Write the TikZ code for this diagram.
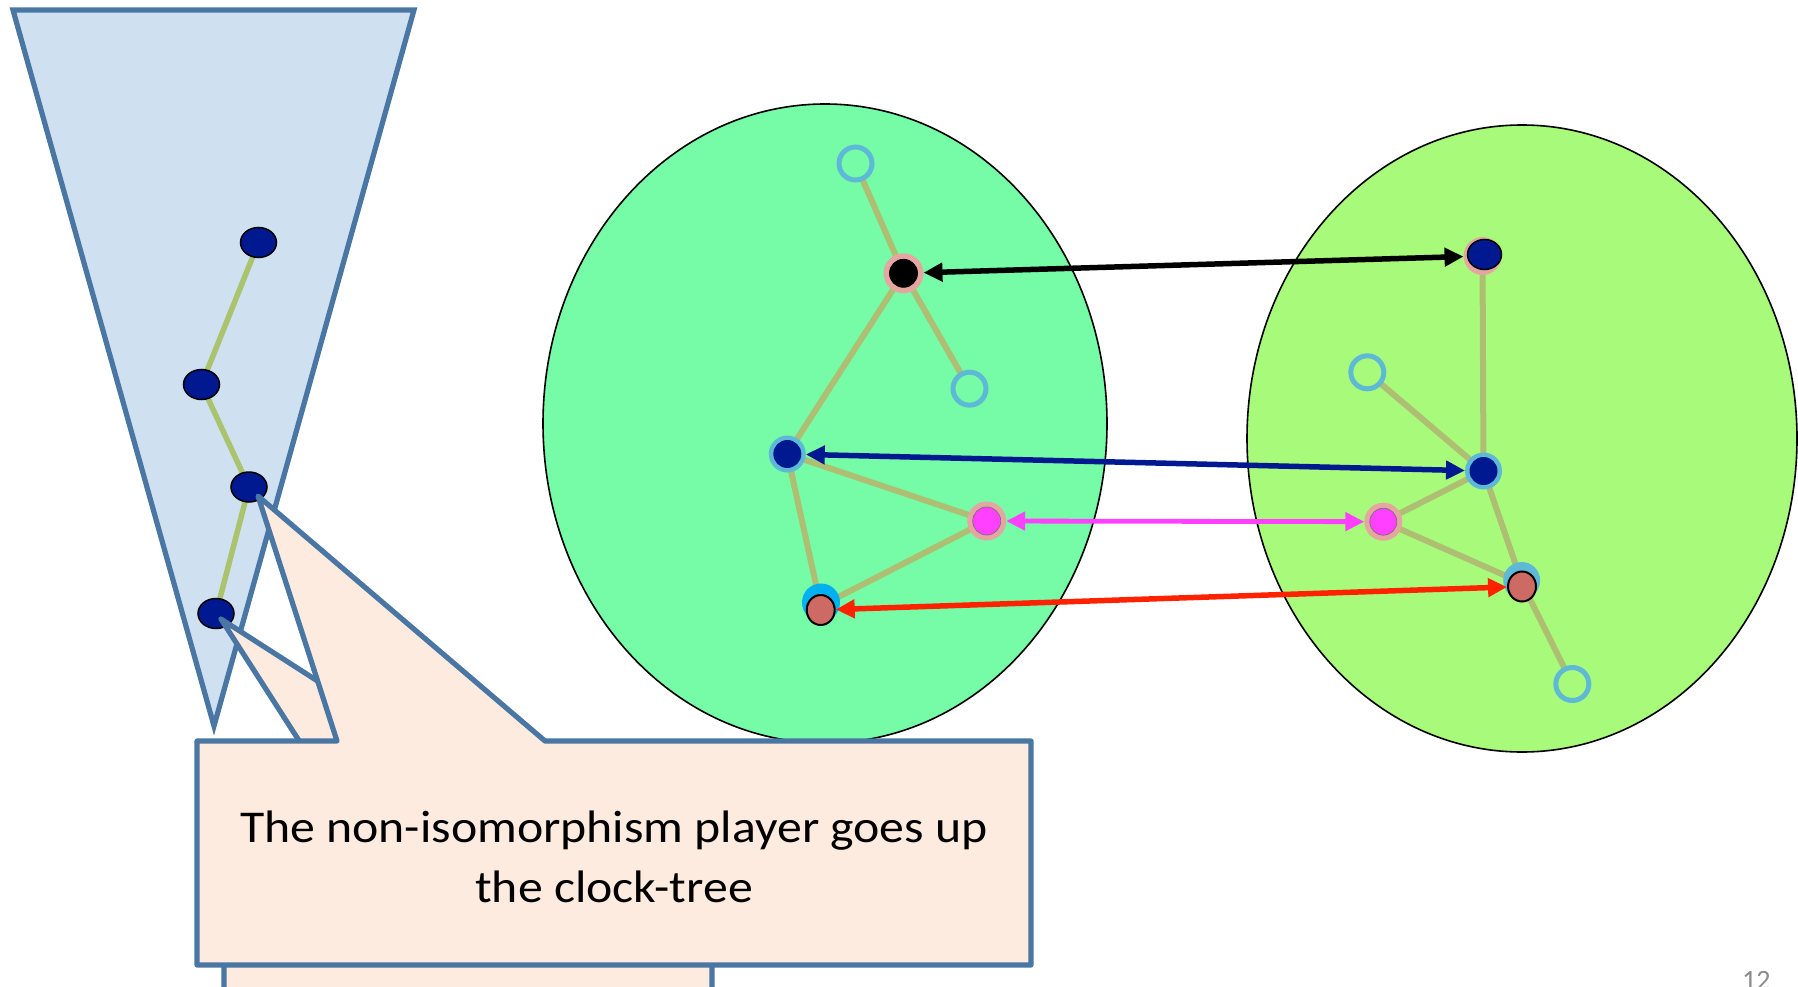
\documentclass[tikz,border=0pt]{standalone}
\usepackage{fontspec}
\setmainfont{Carlito}
\newfontfamily\callfont[FakeStretch=1.094]{Carlito}
\usetikzlibrary{arrows.meta,shapes.geometric}
\definecolor{funnelfill}{RGB}{207,224,241}
\definecolor{outl}{RGB}{74,118,163}
\definecolor{callfill}{RGB}{253,235,223}
\definecolor{navy}{RGB}{0,24,144}
\definecolor{treeg}{RGB}{170,196,110}
\definecolor{treek}{RGB}{174,190,114}
\definecolor{ellA}{RGB}{118,251,167}
\definecolor{ellB}{RGB}{168,251,122}
\definecolor{ringblue}{RGB}{94,185,214}
\definecolor{ringpink}{RGB}{229,166,162}
\definecolor{magen}{RGB}{255,64,255}
\definecolor{brownn}{RGB}{204,106,99}
\definecolor{cyanr}{RGB}{0,176,240}
\definecolor{redarr}{RGB}{255,34,0}
\definecolor{pagegray}{RGB}{140,140,140}
\begin{document}
\begin{tikzpicture}[x=1pt,y=-1pt,
  fillc/.style={circle, inner sep=0pt, outer sep=0pt, minimum size=#1},
  openc/.style={circle, inner sep=0pt, outer sep=0pt, minimum size=33pt, draw=ringblue, line width=5pt},
  fnode/.style={ellipse, fill=navy, draw=black, line width=1.5pt, minimum width=36pt, minimum height=30pt, inner sep=0pt},
  tedge/.style={line width=6pt, draw=treek},
  fedge/.style={line width=5.5pt, draw=treeg},
  arr/.style={{Triangle[length=19pt,width=18pt]}-{Triangle[length=19pt,width=18pt]}, line width=5.5pt},
  bigell/.style={draw=black, line width=1.6pt},
  callout/.style={draw=outl, fill=callfill, line width=5.2pt, line join=round},
  txt/.style={inner sep=0pt, anchor=base, font=\callfont\fontsize{45.5}{60}\selectfont}
]
\useasboundingbox (0,0) rectangle (1798,987);
\fill[white] (0,0) rectangle (1798,987);

% big ellipses
\draw[bigell, fill=ellA] (825,423.5) ellipse [x radius=282, y radius=319.5];
\draw[bigell, fill=ellB] (1522,438.5) ellipse [x radius=275, y radius=313.5];

% tree coordinates, graph A
\coordinate (a1) at (855.5,163.5);
\coordinate (b1) at (903.5,273.3);
\coordinate (c1) at (969.5,388.7);
\coordinate (d1) at (787.3,454);
\coordinate (e1) at (986.7,521);
\coordinate (f1) at (820.7,606);
% graph B
\coordinate (a2) at (1367.3,372.3);
\coordinate (b2) at (1482.5,256);
\coordinate (d2) at (1483.5,471);
\coordinate (e2) at (1383.3,521.7);
\coordinate (f2) at (1522,583);
\coordinate (g2) at (1572.3,684);

% tree edges
\draw[tedge] (a1) -- (b1) -- (c1);
\draw[tedge] (b1) -- (d1) -- (e1) -- (f1) -- (d1);
\draw[tedge] (b2) -- (d2) -- (a2);
\draw[tedge] (d2) -- (e2) -- (f2) -- (d2);
\draw[tedge] (f2) -- (g2);

% nodes graph A
\node[openc, fill=ellA] (a1n) at (a1) {};
\node[openc, fill=ellA] (c1n) at (c1) {};
\node[fillc=40pt, fill=ringpink] (b1n) at (b1) {};
\node[fillc=28pt, fill=black, draw=black, line width=0.8pt] (b1i) at (b1) {};
\node[fillc=37pt, fill=ringblue] (d1n) at (d1) {};
\node[fillc=28pt, fill=navy] (d1i) at (d1) {};
\node[fillc=39pt, fill=ringpink] (e1n) at (e1) {};
\node[fillc=28pt, fill=magen, draw=black!55, line width=0.7pt] (e1i) at (e1) {};
\node[fillc=38pt, fill=cyanr] (f1r) at (821,602.5) {};
\node[ellipse, inner sep=0pt, minimum width=28pt, minimum height=30pt, fill=brownn, draw=black, line width=2pt] (f1n) at (820.7,610) {};

% nodes graph B
\node[openc, fill=ellB] (a2n) at (a2) {};
\node[openc, fill=ellB] (g2n) at (g2) {};
\node[fillc=38pt, fill=ringpink] (b2n) at (b2) {};
\node[ellipse, inner sep=0pt, minimum width=34pt, minimum height=30pt, fill=navy, draw=black, line width=1.5pt] (b2i) at (1484.5,254.5) {};
\node[fillc=37pt, fill=ringblue] (d2n) at (d2) {};
\node[fillc=28pt, fill=navy] (d2i) at (d2) {};
\node[fillc=38pt, fill=ringpink] (e2n) at (e2) {};
\node[fillc=27pt, fill=magen, draw=black!55, line width=0.7pt] (e2i) at (e2) {};
\node[fillc=37pt, fill=ringblue] (f2r) at (1521.7,580.5) {};
\node[ellipse, inner sep=0pt, minimum width=28pt, minimum height=30pt, fill=brownn, draw=black, line width=2pt] (f2n) at (1522,586.5) {};

% correspondence arrows
\draw[arr, black] (b1n) -- (b2n);
\draw[arr, navy] (d1n) -- (d2n);
\draw[arr, magen, line width=4.8pt] (e1n) -- (e2n);
\draw[arr, redarr] (f1n) -- (f2n);

% funnel
\draw[draw=outl, fill=funnelfill, line width=5.2pt] (13,10) -- (414,10) -- (214,726) -- cycle;
\coordinate (p1) at (258.5,242.5);
\coordinate (p2) at (201.5,384.5);
\coordinate (p3) at (249,487);
\coordinate (p4) at (216,613.5);
\draw[fedge] (p1) -- (p2) -- (p3) -- (p4);
\node[fnode] (n1) at (p1) {};
\node[fnode] (n2) at (p2) {};
\node[fnode] (n3) at (p3) {};
\node[fnode] (n4) at (p4) {};

% callouts
\draw[callout] (224,1000) -- (224,750) -- (305,750) -- (221,619) -- (425,750) -- (712,750) -- (712,1000);
\draw[callout] (197,741) -- (337,741) -- (258,496) -- (545,741) -- (1031,741) -- (1031,965) -- (197,965) -- cycle;

\node[txt] (t1) at (614,842.7) {The non-isomorphism player goes up};
\node[txt] (t2) at (614,902.7) {the clock-tree};

\node[inner sep=0pt, anchor=base west, text=pagegray, font=\fontsize{28}{30}\selectfont] (pg) at (1742,989.5) {12};
\end{tikzpicture}
\end{document}
